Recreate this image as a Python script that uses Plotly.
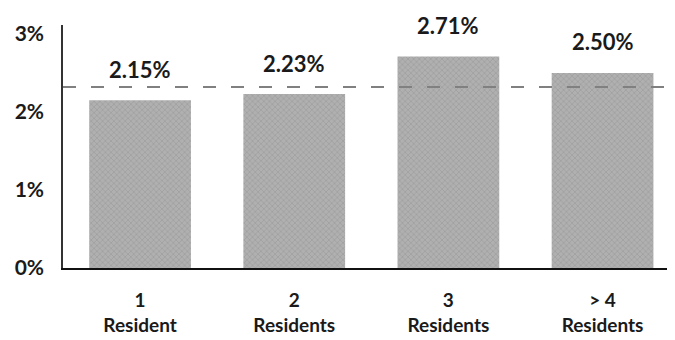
import plotly.graph_objects as go

categories = ["1<br>Resident", "2<br>Residents", "3<br>Residents", "> 4<br>Residents"]
values = [2.15, 2.23, 2.71, 2.50]
value_labels = ["2.15%", "2.23%", "2.71%", "2.50%"]
reference_level = 2.32
y_tick_vals = [0, 1, 2, 3]
y_tick_text = ["0%", "1%", "2%", "3%"]

xs = list(range(len(categories)))

fig = go.Figure()
fig.add_trace(go.Bar(
    x=xs, y=values, width=0.66,
    marker=dict(color="#b0b0b0", line=dict(width=0),
                pattern=dict(shape="x", fgcolor="#888888", size=4, solidity=0.3)),
    hoverinfo="skip",
))
for x, v, t in zip(xs, values, value_labels):
    fig.add_annotation(x=x, y=v, text=t, showarrow=False, yanchor="middle",
                       yshift=31, font=dict(family="Lato", size=22, color="#1a1a1a", weight="bold"))

fig.add_shape(type="line", xref="paper", yref="y", x0=0, x1=1,
              y0=reference_level, y1=reference_level,
              line=dict(color="#808080", width=2, dash="13px,15px"))

# page body has an 8px default margin, so the figure is sized to fit the window
fig.update_layout(
    width=667, height=332,
    margin=dict(l=55, r=0, t=17, b=72, autoexpand=False),
    paper_bgcolor="white", plot_bgcolor="white",
    showlegend=False,
)
fig.update_xaxes(
    range=[-0.5, 3.47], tickvals=xs, ticktext=categories, automargin=False,
    showgrid=False, zeroline=False,
    showline=True, linecolor="#111111", linewidth=2,
    ticks="", ticklabelstandoff=14,
    tickfont=dict(family="Lato", size=19, color="#1a1a1a", weight="bold"),
)
fig.update_yaxes(
    range=[0, 3.115], tickvals=y_tick_vals, ticktext=y_tick_text, automargin=False,
    showgrid=False, zeroline=False,
    showline=True, linecolor="#333333", linewidth=1.5,
    ticks="", ticklabelstandoff=13,
    tickfont=dict(family="Lato", size=21, color="#1a1a1a", weight="bold"),
)

fig.write_html("out.html")
